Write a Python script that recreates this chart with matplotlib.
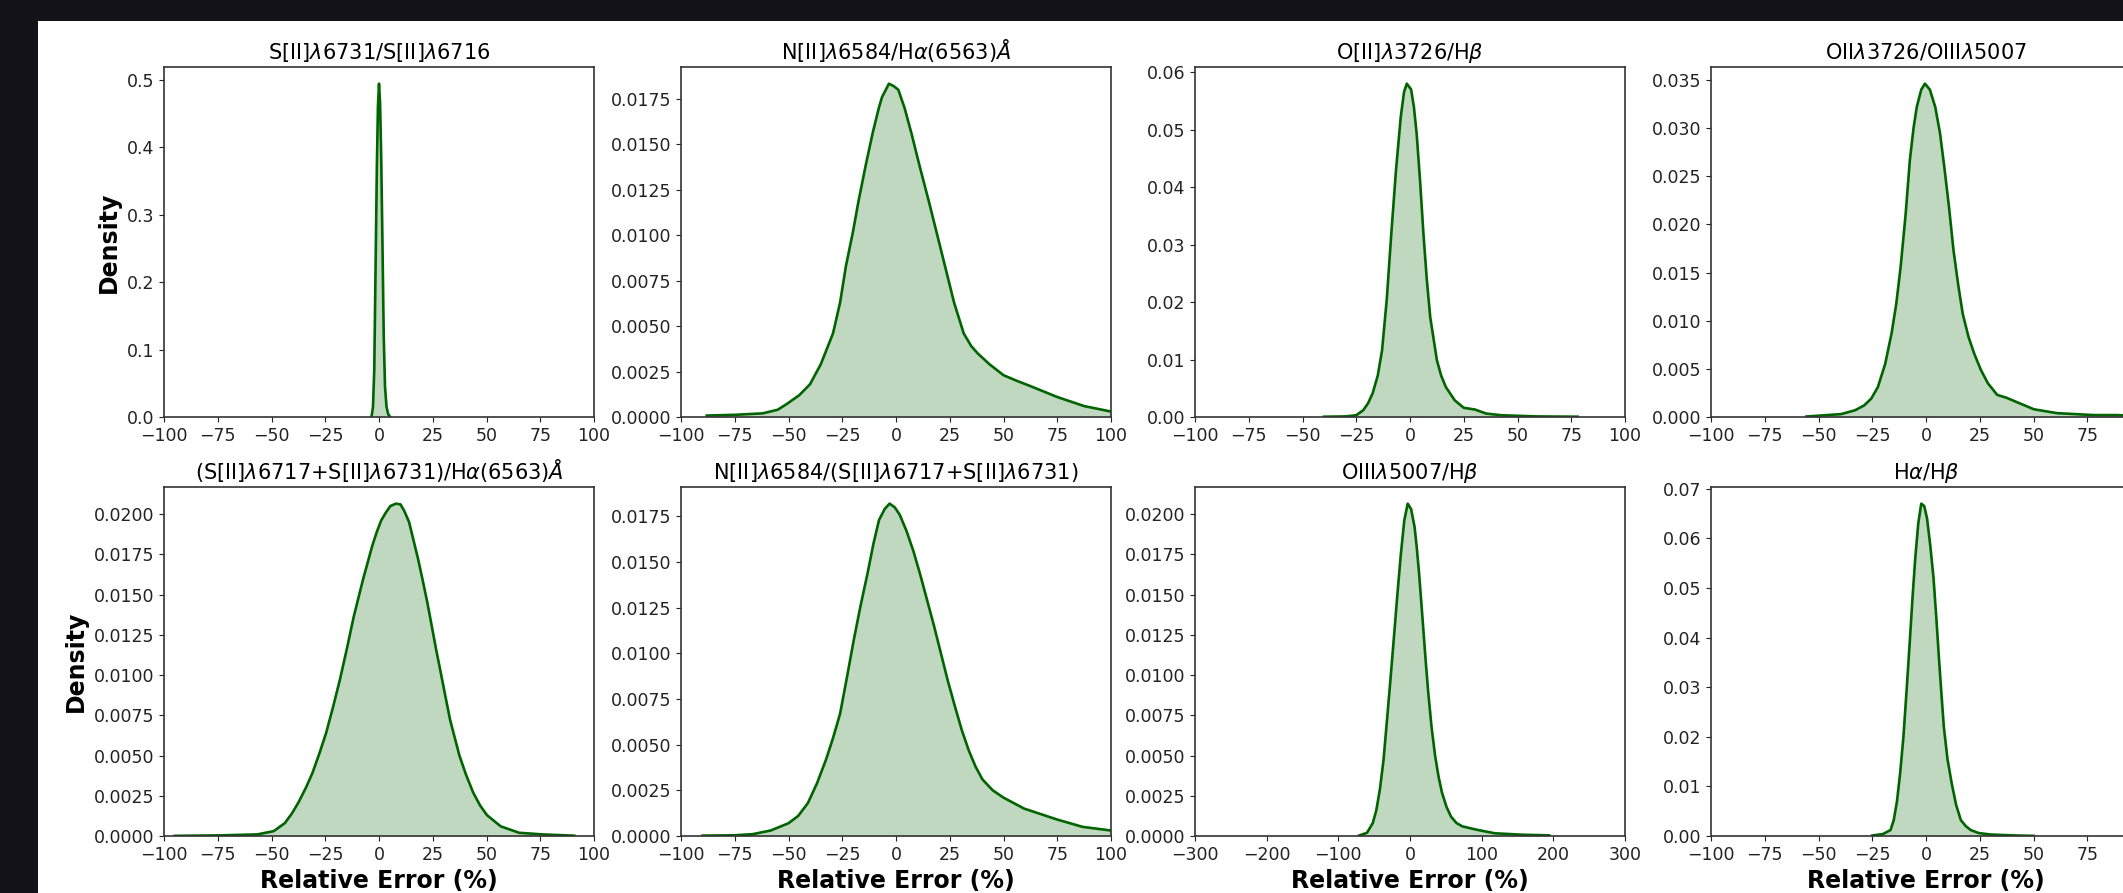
import matplotlib
matplotlib.use("Agg")
import matplotlib.pyplot as plt
from matplotlib.patches import Rectangle
from matplotlib.ticker import MultipleLocator

# ---- data (relative error %, density) ----
sii_ratio_x = [-3.5, -2.8, -2.2, -1.6, -1.0, -0.5, 0.0, 0.5, 1.0, 1.6, 2.2, 2.8, 3.5, 4.3, 5.2]
sii_ratio_d = [0.0, 0.015, 0.07, 0.22, 0.37, 0.46, 0.494, 0.465, 0.39, 0.26, 0.12, 0.045, 0.015, 0.004, 0.0]

nii_ha_x = [-88, -75, -62, -55, -51, -45, -40, -35, -29.3, -26, -23.3, -20, -17.4, -14, -10.9, -8,
            -6.5, -3.3, -1, 1.1, 4, 7.2, 11, 15.2, 19, 22.8, 27, 31.5, 35, 38, 43.5, 50, 56, 62.5, 75,
            87.5, 100, 106]
nii_ha_d = [0.00008, 0.00012, 0.0002, 0.0004, 0.0007, 0.0012, 0.0018, 0.0029, 0.0046, 0.0063, 0.0083,
            0.0102, 0.0119, 0.0139, 0.0156, 0.0170, 0.0176, 0.01834, 0.0182, 0.0180, 0.0170, 0.0156,
            0.0138, 0.0119, 0.0101, 0.0083, 0.0063, 0.0046, 0.0039, 0.0035, 0.0029, 0.0023, 0.0020,
            0.0017, 0.0011, 0.0006, 0.0003, 0.0002]

oii_hb_x = [-40, -30, -25, -21.7, -19.5, -17.4, -15, -13, -10.8, -8.7, -6.5, -4.3, -2.8, -1.5, 0.5,
            1.8, 3.1, 4.7, 6.25, 7.8, 9.4, 12.5, 14.5, 16.7, 20.8, 25, 30.2, 35.4, 42.7, 59, 78]
oii_hb_d = [0.00005, 0.0001, 0.0003, 0.0012, 0.0024, 0.0041, 0.0072, 0.0116, 0.0205, 0.0319, 0.0430,
            0.0522, 0.0565, 0.0580, 0.0570, 0.0540, 0.0493, 0.0410, 0.0319, 0.0240, 0.0174, 0.0099,
            0.0072, 0.0052, 0.0029, 0.0016, 0.0013, 0.0006, 0.0003, 0.0001, 0.00005]

oii_oiii_x = [-55.6, -39.5, -33, -28.8, -25.5, -22.4, -19, -16, -13.8, -11.8, -9.5, -7.5, -5.8, -4.3,
              -2.2, -0.5, 1.8, 4.3, 6.5, 8.5, 10.7, 12.8, 15, 17.1, 19.8, 22.4, 25.5, 28.8, 33.1, 37.4,
              43.8, 50.2, 60.9, 78, 88.7, 100]
oii_oiii_d = [0.00005, 0.0003, 0.0007, 0.0012, 0.0019, 0.0031, 0.0055, 0.0087, 0.0118, 0.0156, 0.0210,
              0.0267, 0.0300, 0.0322, 0.0340, 0.03462, 0.0340, 0.0322, 0.0295, 0.0260, 0.0218, 0.0173,
              0.0137, 0.0107, 0.0083, 0.0066, 0.0049, 0.0035, 0.0023, 0.0020, 0.0014, 0.0008, 0.0004,
              0.0002, 0.0002, 0.0001]

sii_ha_x = [-95, -73.7, -56.6, -49, -43.8, -40.5, -37.4, -34, -31, -27.8, -24.6, -21.4, -18.2, -15,
            -11.8, -7.5, -3.2, -1, 1, 3.2, 5.3, 7.9, 10, 11.75, 14, 16, 18.2, 20.3, 22.5, 24.6, 26.7,
            28.8, 31, 33.1, 37.4, 40.5, 43.8, 47, 50.2, 56.6, 65.2, 75.9, 90.8]
sii_ha_d = [0.00001, 0.00004, 0.0001, 0.0003, 0.0008, 0.0014, 0.0021, 0.0030, 0.0039, 0.0051, 0.0064,
            0.0080, 0.0097, 0.0116, 0.0136, 0.0159, 0.0180, 0.0189, 0.0196, 0.0201, 0.0205, 0.02065,
            0.0206, 0.0202, 0.0195, 0.0184, 0.0172, 0.0159, 0.0145, 0.0130, 0.0115, 0.0101, 0.0086,
            0.0072, 0.0050, 0.0038, 0.0027, 0.0019, 0.0013, 0.0006, 0.0002, 0.0001, 0.00002]

nii_sii_x = [-90, -75, -66.7, -58.3, -50, -45.5, -41, -36.7, -32.5, -29.2, -26, -22.8, -19.7, -16.5,
             -13.2, -10.5, -7.9, -5.3, -3, -0.6, 1.7, 4.9, 8.1, 11.3, 14.5, 17.7, 20.9, 24.1, 27.4, 30.6,
             33.8, 37, 40.2, 45, 50, 59.6, 75, 86.8, 100, 106]
nii_sii_d = [0.00002, 0.00004, 0.0001, 0.0003, 0.0007, 0.0011, 0.0018, 0.0029, 0.0042, 0.0054, 0.0067,
             0.0087, 0.0107, 0.0126, 0.0144, 0.0160, 0.0173, 0.0179, 0.0182, 0.0180, 0.0176, 0.0167,
             0.0156, 0.0143, 0.0129, 0.0115, 0.0100, 0.0085, 0.0071, 0.0058, 0.0047, 0.0038, 0.0031,
             0.0025, 0.0021, 0.0015, 0.0009, 0.0005, 0.0003, 0.0002]

oiii_hb_x = [-71, -60, -52, -47, -42, -37, -32.5, -27.5, -22.7, -17.8, -13, -8, -3.2, 1.6, 6.4, 9.5,
             12.7, 15.8, 19, 22.2, 25.5, 30, 35, 39.8, 44.6, 51, 57.3, 65, 73, 92, 118, 156, 194]
oiii_hb_d = [0.00003, 0.0002, 0.0008, 0.0016, 0.0029, 0.0047, 0.007, 0.0096, 0.0122, 0.0149, 0.0174,
             0.0196, 0.02065, 0.0203, 0.0192, 0.0179, 0.0163, 0.0145, 0.0126, 0.0107, 0.0089, 0.0068,
             0.005, 0.0037, 0.0027, 0.0018, 0.0012, 0.0008, 0.0006, 0.0004, 0.00017, 0.00008, 0.00004]

ha_hb_x = [-25, -20, -16.5, -15, -13.5, -12, -10.5, -9, -7.5, -6.2, -5, -3.6, -2.2, -0.8, 0.5, 2, 3.5,
           4.8, 6, 7.2, 8.3, 10, 12, 14, 16.2, 18.5, 20.8, 24.5, 30, 42, 50]
ha_hb_d = [0.0001, 0.0004, 0.0012, 0.0032, 0.007, 0.0128, 0.020, 0.0295, 0.0395, 0.0485, 0.056, 0.0630,
           0.0670, 0.0665, 0.064, 0.0585, 0.052, 0.0440, 0.036, 0.0285, 0.022, 0.0155, 0.0105, 0.0063,
           0.0032, 0.002, 0.0012, 0.0006, 0.0003, 0.0001, 0.00003]

titles = [
    r"S[II]$\lambda$6731/S[II]$\lambda$6716",
    r"N[II]$\lambda$6584/H$\alpha$(6563)$\AA$",
    r"O[II]$\lambda$3726/H$\beta$",
    r"OII$\lambda$3726/OIII$\lambda$5007",
    r"(S[II]$\lambda$6717+S[II]$\lambda$6731)/H$\alpha$(6563)$\AA$",
    r"N[II]$\lambda$6584/(S[II]$\lambda$6717+S[II]$\lambda$6731)",
    r"OIII$\lambda$5007/H$\beta$",
    r"H$\alpha$/H$\beta$",
]
curves = [
    (sii_ratio_x, sii_ratio_d), (nii_ha_x, nii_ha_d), (oii_hb_x, oii_hb_d), (oii_oiii_x, oii_oiii_d),
    (sii_ha_x, sii_ha_d), (nii_sii_x, nii_sii_d), (oiii_hb_x, oiii_hb_d), (ha_hb_x, ha_hb_d),
]
x_ranges = [(-100, 100, 25)] * 6 + [(-300, 300, 100), (-100, 100, 25)]
y_steps = [0.1, 0.0025, 0.01, 0.005, 0.0025, 0.0025, 0.0025, 0.01]

# ---- layout (pixel positions of the reference) ----
W, H = 2123, 893
fig = plt.figure(figsize=(W / 100, H / 100), dpi=100, facecolor="#141219")
# white slide area behind the panels
fig.patches.append(Rectangle((38 / W, 0), 1, 1 - 21 / H, transform=fig.transFigure,
                             facecolor="white", edgecolor="none", zorder=-10))

col_left = [164, 681, 1195, 1711]
panel_w = 430
row_box = [(67, 417), (487, 836)]

for i, (xs, ds) in enumerate(curves):
    r, c = divmod(i, 4)
    top, bottom = row_box[r]
    ax = fig.add_axes([col_left[c] / W, 1 - bottom / H, panel_w / W, (bottom - top) / H])
    ax.fill_between(xs, ds, color="darkgreen", alpha=0.25, linewidth=0)
    ax.plot(xs, ds, color="darkgreen", linewidth=1.9, solid_joinstyle="round")

    lo, hi, step = x_ranges[i]
    ax.set_xlim(lo, hi)
    ax.set_ylim(0, max(ds) * 1.05)
    ax.set_xticks(range(lo, hi + 1, step))
    ax.yaxis.set_major_locator(MultipleLocator(y_steps[i]))
    ax.set_title(titles[i], fontsize=15)
    ax.tick_params(labelsize=12.5, colors="#222222")
    for s in ax.spines.values():
        s.set_color("#333333")
        s.set_linewidth(1.2)
    if c == 0:
        ax.set_ylabel("Density", fontsize=17, fontweight="bold")
    if r == 1:
        ax.set_xlabel("Relative Error (%)", fontsize=17, fontweight="bold")

fig.savefig("out.png", dpi=100, facecolor=fig.get_facecolor())
